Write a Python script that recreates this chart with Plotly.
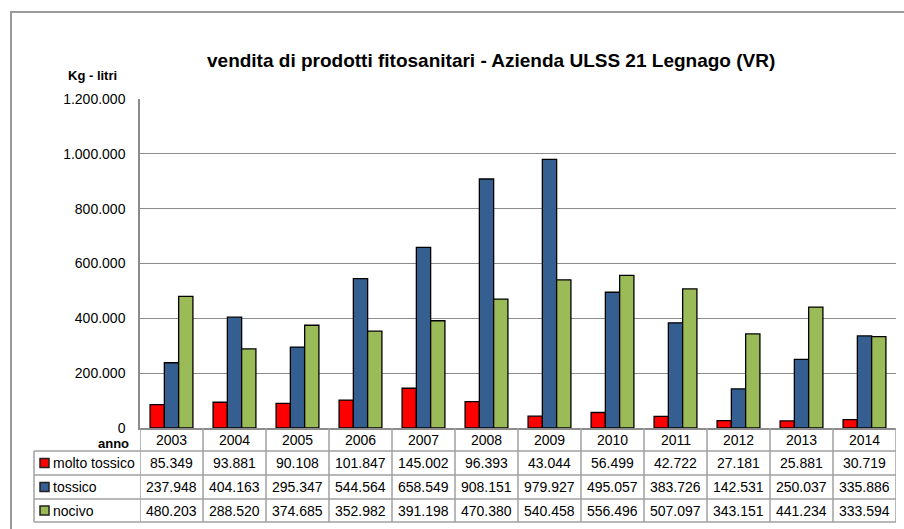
import plotly.graph_objects as go

years = ["2003", "2004", "2005", "2006", "2007", "2008", "2009", "2010", "2011", "2012", "2013", "2014"]
series_names = ["molto tossico", "tossico", "nocivo"]
molto_tossico = [85349, 93881, 90108, 101847, 145002, 96393, 43044, 56499, 42722, 27181, 25881, 30719]
tossico = [237948, 404163, 295347, 544564, 658549, 908151, 979927, 495057, 383726, 142531, 250037, 335886]
nocivo = [480203, 288520, 374685, 352982, 391198, 470380, 540458, 556496, 507097, 343151, 441234, 333594]
colors = ["#FF0000", "#365F91", "#9BBB59"]
y_ticks = [0, 200000, 400000, 600000, 800000, 1000000, 1200000]
title = "vendita di prodotti fitosanitari - Azienda ULSS 21 Legnago (VR)"

W, H = 904, 529
L, R, T, B = 140, 896, 99, 428
pw, ph = R - L, B - T

def px(x):
    return (x - L) / pw

def py(y):
    return (B - y) / ph

def fmt(v):
    return f"{v:,}".replace(",", ".")

fig = go.Figure()
data = [molto_tossico, tossico, nocivo]
for name, vals, c in zip(series_names, data, colors):
    fig.add_trace(go.Bar(x=years, y=vals, name=name, marker=dict(color=c, line=dict(color="black", width=1.3))))

FONT = "Liberation Sans"
grid = "#8C8C8C"
tline = "#A0A0A0"
shapes = []
annotations = []

def txt(x, xref, y, text, size=14, xanchor="center"):
    return dict(x=x, xref=xref, y=y, yref="paper", text=text, showarrow=False,
                xanchor=xanchor, yanchor="middle", font=dict(family=FONT, size=size, color="black"))

# outer border
shapes.append(dict(type="rect", xref="paper", yref="paper", x0=px(11), x1=px(910), y0=py(535), y1=py(12),
                   line=dict(color="#9A9A9A", width=2), layer="below"))

rows_y = [428, 451, 475, 499, 522]
for yy in rows_y[1:]:
    shapes.append(dict(type="line", xref="paper", yref="paper", x0=px(34), x1=px(896), y0=py(yy), y1=py(yy),
                       line=dict(color=tline, width=1.5)))
for j in range(len(years) + 1):
    shapes.append(dict(type="line", xref="x", yref="paper", x0=j - 0.5, x1=j - 0.5, y0=py(428), y1=py(522),
                       line=dict(color=tline, width=1.5)))
shapes.append(dict(type="line", xref="paper", yref="paper", x0=px(34), x1=px(34), y0=py(451), y1=py(522),
                   line=dict(color=tline, width=1.5)))

for j, yr in enumerate(years):
    annotations.append(txt(j, "x", py(440), yr))
annotations.append(txt(px(131), "paper", py(443), "<b>anno</b>", size=13, xanchor="right"))

for i, (name, vals, c) in enumerate(zip(series_names, data, colors)):
    yc = (rows_y[i + 1] + rows_y[i + 2]) / 2
    for j, v in enumerate(vals):
        annotations.append(txt(j, "x", py(yc), fmt(v)))
    annotations.append(txt(px(51), "paper", py(yc), name, xanchor="left"))
    shapes.append(dict(type="rect", xref="paper", yref="paper", x0=px(40), x1=px(49), y0=py(yc + 4.5), y1=py(yc - 4.5),
                       fillcolor=c, line=dict(color="#222222", width=1.5)))

annotations.append(txt(px(92), "paper", py(75), "<b>Kg - litri</b>", size=13))
annotations.append(txt(px(491), "paper", py(60), "<b>" + title + "</b>", size=19))

fig.update_layout(
    width=W, height=H,
    margin=dict(l=L, r=W - R, t=T, b=H - B),
    paper_bgcolor="white", plot_bgcolor="white",
    separators=",.",
    showlegend=False,
    bargap=0.32, bargroupgap=0,
    xaxis=dict(type="category", range=[-0.5, len(years) - 0.5], showticklabels=False, showgrid=False,
               showline=True, linecolor=grid, linewidth=1.5, ticks=""),
    yaxis=dict(range=[0, 1200000], tickvals=y_ticks, tickformat=",d", showgrid=True, gridcolor=grid, gridwidth=1.3,
               showline=True, linecolor=grid, linewidth=1.5, ticks="", zeroline=False,
               tickfont=dict(family=FONT, size=14, color="black"), ticklabelstandoff=10),
    shapes=shapes, annotations=annotations,
)

fig.write_html("out.html", config={"displayModeBar": False},
               post_script="document.body.style.margin='0';document.body.style.overflow='hidden';")
